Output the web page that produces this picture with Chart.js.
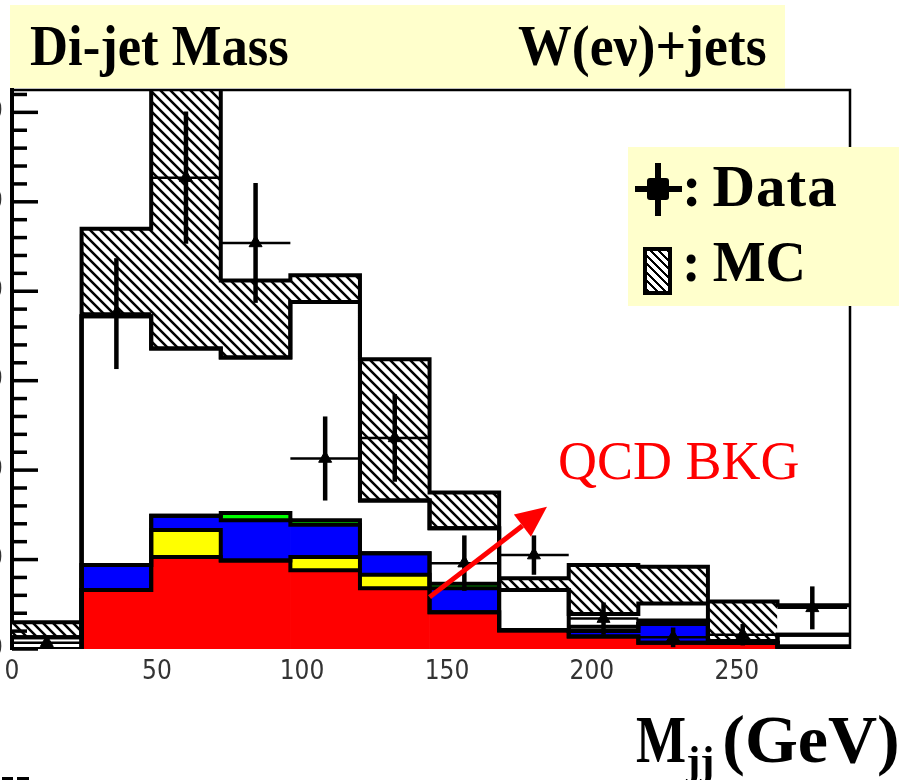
<!DOCTYPE html>
<html>
<head>
<meta charset="utf-8">
<title>Di-jet Mass</title>
<script src="https://cdn.jsdelivr.net/npm/chart.js@4.4.1/dist/chart.umd.min.js"></script>
<style>
  html, body { margin: 0; padding: 0; background: #fff; }
  body { position: relative; width: 899px; height: 780px; overflow: hidden; font-family: "Liberation Serif", "Times New Roman", serif; }
  #plot { position: absolute; left: -60px; top: 0; }
  .panel { position: absolute; background: #ffffcc; }
  .txt { position: absolute; white-space: nowrap; line-height: 1; transform-origin: 0 0; }
  .bold { font-weight: bold; color: #000; }
  .blk { position: absolute; background: #000; }
  .hatch { position: absolute; box-sizing: border-box; border: 4px solid #000;
           background: repeating-linear-gradient(45deg, #000 0 2px, #fff 2px 6px); }
  .sq { display: inline-block; transform-origin: 0 0; }
  sub { font-size: 0.62em; vertical-align: -0.3em; line-height: 0; }
</style>
</head>
<body>
<canvas id="plot" width="959" height="780"></canvas>

<!-- title band -->
<div class="panel" style="left:10px;top:5px;width:775px;height:83px"></div>
<div class="txt bold" style="left:30px;top:18px;font-size:56px;transform:scaleX(0.94)">Di-jet Mass</div>
<div class="txt bold" style="left:518px;top:18px;font-size:56px;transform:scaleX(0.96)">W(eν)+jets</div>

<!-- legend -->
<div class="panel" style="left:628px;top:147px;width:271px;height:159px"></div>
<div class="blk" style="left:635px;top:186px;width:47px;height:6px"></div>
<div class="blk" style="left:655px;top:163px;width:6px;height:53px"></div>
<div class="blk" style="left:647px;top:178px;width:22px;height:22px;border-radius:3px"></div>
<div class="txt bold" style="left:682px;top:157px;font-size:59px;word-spacing:-6px;letter-spacing:1px">: Data</div>
<div class="hatch" style="left:643px;top:247px;width:29px;height:48px"></div>
<div class="txt bold" style="left:682px;top:234px;font-size:56px;word-spacing:-2px">: MC</div>

<div class="txt" style="left:558px;top:434px;font-size:54px;color:#ff0000">QCD BKG</div>
<div class="txt bold" style="left:636px;top:705px;font-size:68px;word-spacing:-9px"><span class="sq" style="transform:scaleX(0.78);margin-right:-14px">M</span><sub>jj</sub> (GeV)</div>

<div class="blk" style="left:2px;top:777px;width:11px;height:3px"></div>
<div class="blk" style="left:17px;top:777px;width:12px;height:3px"></div>

<script>
// 24 GeV wide bins
const binEdges = [0, 24, 48, 72, 96, 120, 144, 168, 192, 216, 240, 264, 288];
const xTickStep = 50;
const yTickStep = 10;

// background components, stacked from the bottom (height of each layer)
const qcdBkg    = [0, 6.6, 10.3, 9.9, 8.8, 6.8, 4.1, 2.1, 1.4, 0.7, 0.7, 0.25];
const yellowBkg = [0, 0, 3.0, 0, 1.5, 1.5, 0, 0, 0, 0, 0, 0];
const blueBkg   = [0, 2.8, 1.6, 4.5, 3.6, 2.4, 2.7, 0, 0.6, 2.1, 0, 0];
const greenBkg  = [0, 0, 0, 0.8, 0.5, 0, 0.5, 0, 0, 0, 0, 0];

// total MC and the hatched MC band
const mcTotal  = [1.3, 37.2, 33.6, 32.6, 38.8, 16.6, 13.5, 6.6, 2.5, 3.2, 0.9, 1.6];
const mcBandLo = [1.3, 37.2, 33.6, 32.6, 38.8, 16.6, 13.5, 6.6, 3.9, 5.1, 0.9, 1.6];
const mcBandHi = [3.0, 47.0, 66.0, 41.2, 41.8, 32.4, 17.5, 7.9, 9.4, 9.2, 5.3, 4.9];

// data points
const dataY   = [0.7, 37.5, 52.7, 45.4, 21.3, 23.6, 9.6, 10.5, 3.4, 1.3, 1.6, 4.6];
const dataErr = [0.8, 6.2, 7.4, 6.7, 4.7, 4.9, 3.1, 2.2, 1.8, 1.1, 1.2, 2.4];

// arrow pointing at the QCD stack (GeV, value)
const arrowFrom = [144, 5.8];
const arrowTo = [184.5, 15.9];

const ctx = document.getElementById('plot').getContext('2d');

function makeHatch() {
    const c = document.createElement('canvas');
    c.width = 10; c.height = 10;
    const g = c.getContext('2d');
    g.fillStyle = '#fff';
    g.fillRect(0, 0, 10, 10);
    g.strokeStyle = '#000';
    g.lineWidth = 2.5;
    g.beginPath();
    g.moveTo(-5, -5); g.lineTo(15, 15);
    g.moveTo(-5, 5); g.lineTo(5, 15);
    g.moveTo(5, -5); g.lineTo(15, 5);
    g.stroke();
    return ctx.createPattern(c, 'repeat');
}
const hatch = makeHatch();

const centre = i => (binEdges[i] + binEdges[i + 1]) / 2;

// histogram outline: flat top over each bin, joined at the edges
function outline(vals, order) {
    const pts = [];
    vals.forEach((v, i) => {
        pts.push({ x: binEdges[i], y: v }, { x: binEdges[i + 1], y: v });
    });
    return {
        type: 'line', data: pts, order: order,
        borderColor: '#000', borderWidth: 4, pointRadius: 0, fill: false,
        tension: 0, borderJoinStyle: 'miter', borderCapStyle: 'square'
    };
}

const datasets = [];

// data markers
datasets.push({
    type: 'line', order: 0, showLine: false,
    data: dataY.map((v, i) => ({ x: centre(i), y: v })),
    pointStyle: 'triangle', pointRadius: 7.5, pointBackgroundColor: '#000',
    pointBorderColor: '#000', pointBorderWidth: 1
});

// MC band
datasets.push({
    type: 'bar', order: 20,
    data: mcBandLo.map((lo, i) => ({ x: centre(i), y: [lo, mcBandHi[i]] })),
    backgroundColor: mcBandLo.map((_, i) => i === mcBandLo.length - 1 ? '#fff' : hatch),
    borderWidth: 0, barPercentage: 1, categoryPercentage: 1
});
datasets.push(outline(mcBandHi, 2));
datasets.push(outline(mcBandLo, 2));
datasets.push(outline(mcTotal, 2));

// stacked backgrounds
const layers = [qcdBkg, yellowBkg, blueBkg, greenBkg];
const layerColors = ['#ff0000', '#ffff00', '#0000ff', '#00ff00'];
let base = qcdBkg.map(() => 0);
layers.forEach((vals, k) => {
    const top = base.map((b, i) => b + vals[i]);
    const lo = base;
    datasets.push({
        type: 'bar', order: 10,
        data: top.map((t, i) => ({ x: centre(i), y: [lo[i], t] })),
        backgroundColor: layerColors[k],
        borderWidth: 0, barPercentage: 1, categoryPercentage: 1
    });
    datasets.push(outline(top, 3));
    base = top;
});

const histExtras = {
    id: 'histExtras',
    afterDatasetsDraw(chart) {
        const { ctx, chartArea, scales: { x, y } } = chart;
        ctx.save();

        // error bars on the data
        ctx.strokeStyle = '#000';
        ctx.lineCap = 'butt';
        dataY.forEach((v, i) => {
            const px = x.getPixelForValue(centre(i));
            const py = y.getPixelForValue(v);
            ctx.lineWidth = 4.5;
            ctx.beginPath();
            ctx.moveTo(px, y.getPixelForValue(Math.max(0, v - dataErr[i])));
            ctx.lineTo(px, y.getPixelForValue(v + dataErr[i]));
            ctx.stroke();
            ctx.lineWidth = 2.5;
            ctx.beginPath();
            ctx.moveTo(x.getPixelForValue(binEdges[i]), py);
            ctx.lineTo(x.getPixelForValue(binEdges[i + 1]), py);
            ctx.stroke();
        });

        // frame top and right
        ctx.lineWidth = 2.5;
        ctx.beginPath();
        ctx.moveTo(chartArea.left, chartArea.top);
        ctx.lineTo(chartArea.right, chartArea.top);
        ctx.lineTo(chartArea.right, chartArea.bottom);
        ctx.stroke();

        // ticks pointing into the plot on the y axis
        ctx.lineWidth = 3.5;
        for (let v = 0; v <= y.max; v += 2) {
            const py = y.getPixelForValue(v);
            const len = v % yTickStep === 0 ? 26 : 15;
            ctx.beginPath();
            ctx.moveTo(chartArea.left, py);
            ctx.lineTo(chartArea.left + len, py);
            ctx.stroke();
        }

        // red arrow
        const x0 = x.getPixelForValue(arrowFrom[0]), y0 = y.getPixelForValue(arrowFrom[1]);
        const x1 = x.getPixelForValue(arrowTo[0]), y1 = y.getPixelForValue(arrowTo[1]);
        const ang = Math.atan2(y1 - y0, x1 - x0);
        const headLen = 31, headW = 14;
        const bx = x1 - headLen * Math.cos(ang), by = y1 - headLen * Math.sin(ang);
        ctx.strokeStyle = '#ff0000';
        ctx.fillStyle = '#ff0000';
        ctx.lineWidth = 5;
        ctx.beginPath();
        ctx.moveTo(x0, y0);
        ctx.lineTo(bx, by);
        ctx.stroke();
        ctx.beginPath();
        ctx.moveTo(x1, y1);
        ctx.lineTo(bx + headW * Math.sin(ang), by - headW * Math.cos(ang));
        ctx.lineTo(bx - headW * Math.sin(ang), by + headW * Math.cos(ang));
        ctx.closePath();
        ctx.fill();

        ctx.restore();
    }
};

const tickFont = { family: '"Liberation Sans Narrow", "DejaVu Sans Condensed", "Liberation Sans", sans-serif', size: 26 };

new Chart(ctx, {
    type: 'bar',
    data: { datasets: datasets },
    options: {
        responsive: false,
        animation: false,
        devicePixelRatio: 1,
        layout: { padding: { top: 90, right: 49, left: 0, bottom: 0 } },
        plugins: { legend: { display: false }, tooltip: { enabled: false } },
        scales: {
            x: {
                type: 'linear', min: 0, max: 289, offset: false, stacked: true,
                grid: { display: false, drawTicks: false },
                border: { display: false },
                ticks: { stepSize: xTickStep, includeBounds: false, padding: 8, color: '#333', font: tickFont, maxRotation: 0 },
                afterFit: s => { s.height = 131; }
            },
            y: {
                type: 'linear', min: 0, max: 62.5, stacked: false,
                grid: { display: false, drawTicks: false },
                border: { display: true, width: 4, color: '#000' },
                ticks: { stepSize: yTickStep, includeBounds: false, padding: 9, color: '#333', font: tickFont },
                afterFit: s => { s.width = 72; }
            }
        }
    },
    plugins: [histExtras]
});
</script>
</body>
</html>
